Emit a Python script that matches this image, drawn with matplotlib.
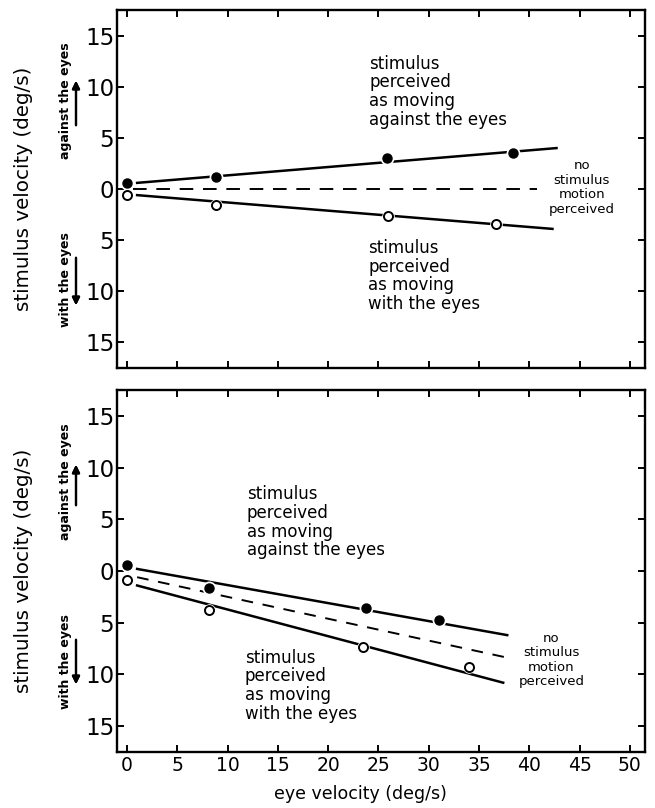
import matplotlib.pyplot as plt
import numpy as np

# top panel: measured points and fitted lines
top_against_x = [0, 8.8, 25.8, 38.4]
top_against_y = [0.6, 1.2, 3.0, 3.5]
top_with_x = [0, 8.8, 25.9, 36.7]
top_with_y = [-0.6, -1.6, -2.6, -3.4]
top_fit_against = ([1.0, 42.7], [0.6, 4.0])
top_fit_with = ([1.0, 42.3], [-0.6, -3.9])
top_no_motion = ([0.6, 40.8], [0.0, 0.0])

# bottom panel
bot_against_x = [0, 8.1, 23.8, 31.0]
bot_against_y = [0.6, -1.6, -3.6, -4.7]
bot_with_x = [0, 8.1, 23.5, 34.0]
bot_with_y = [-0.9, -3.8, -7.3, -9.3]
bot_fit_against = ([1.0, 37.8], [0.2, -6.2])
bot_fit_with = ([1.0, 37.4], [-1.4, -10.8])
bot_no_motion = ([1.0, 37.9], [-0.6, -8.4])

x_ticks = list(range(0, 55, 5))
y_ticks = [-15, -10, -5, 0, 5, 10, 15]

W, H = 655, 808
plt.rcParams['font.family'] = ['DejaVu Sans']

fig = plt.figure(figsize=(W / 100, H / 100), dpi=100)


def px(x, y):
    return (x / W, 1 - y / H)


def make_axes(top, bottom):
    left, right = 117, 645
    ax = fig.add_axes([left / W, 1 - bottom / H, (right - left) / W, (bottom - top) / H])
    ax.set_xlim(-1, 51.5)
    ax.set_ylim(-17.5, 17.5)
    ax.set_xticks(x_ticks)
    ax.set_yticks(y_ticks)
    ax.set_yticklabels([str(abs(v)) for v in y_ticks])
    ax.tick_params(direction='in', top=True, right=True, length=5, width=1.4, pad=3)
    ax.tick_params(axis='y', labelsize=16.5, pad=2)
    ax.tick_params(axis='x', labelsize=13.5)
    for s in ax.spines.values():
        s.set_linewidth(1.7)
    ax.set_ylabel('stimulus velocity (deg/s)', fontsize=14.3)
    ax.yaxis.set_label_coords((33 - 117) / 528, 0.5)
    return ax


def draw(ax, ax_x, ax_y, w_x, w_y, fit_a, fit_w, nm, dash):
    ax.plot(*fit_a, color='black', lw=1.8, zorder=2)
    ax.plot(*fit_w, color='black', lw=1.8, zorder=2)
    ax.plot(*nm, color='black', lw=1.4, dashes=dash, zorder=2)
    # white halo behind the points makes the gap in the line
    ax.plot(ax_x, ax_y, 'o', ms=9, color='white', zorder=3)
    ax.plot(w_x, w_y, 'o', ms=8, color='white', zorder=3)
    ax.plot(ax_x, ax_y, 'o', ms=6.5, color='black', zorder=4)
    ax.plot(w_x, w_y, 'o', ms=6.5, mfc='white', mec='black', mew=1.4, zorder=4)


def arrow(x, y0, y1):
    fig.add_artist(plt.annotate('', xy=px(x, y1), xytext=px(x, y0),
                                xycoords='figure fraction', textcoords='figure fraction',
                                arrowprops=dict(arrowstyle='-|>', color='black', lw=1.6,
                                                mutation_scale=11)))


def side_labels(against_c, with_c, up, down):
    fig.text(*px(65, against_c), 'against the eyes', rotation=90, fontsize=9,
             fontweight='bold', ha='center', va='center')
    fig.text(*px(65, with_c), 'with the eyes', rotation=90, fontsize=9,
             fontweight='bold', ha='center', va='center')
    arrow(76, *up)
    arrow(76, *down)


txt_kw = dict(fontsize=12, linespacing=1.05, va='center', ha='left')
nm_kw = dict(fontsize=9.5, linespacing=1.15, va='center', ha='center')

ax1 = make_axes(10, 368)
ax1.tick_params(labelbottom=False)
draw(ax1, top_against_x, top_against_y, top_with_x, top_with_y,
     top_fit_against, top_fit_with, top_no_motion, (7, 5))
ax1.text(24.1, 9.5, 'stimulus\nperceived\nas moving\nagainst the eyes', **txt_kw)
ax1.text(24.0, -8.5, 'stimulus\nperceived\nas moving\nwith the eyes', **txt_kw)
ax1.text(45.2, 0.15, 'no\nstimulus\nmotion\nperceived', **nm_kw)

ax2 = make_axes(390, 752)
draw(ax2, bot_against_x, bot_against_y, bot_with_x, bot_with_y,
     bot_fit_against, bot_fit_with, bot_no_motion, (6, 5))
ax2.text(11.9, 4.7, 'stimulus\nperceived\nas moving\nagainst the eyes', **txt_kw)
ax2.text(11.7, -11.1, 'stimulus\nperceived\nas moving\nwith the eyes', **txt_kw)
ax2.text(42.2, -8.6, 'no\nstimulus\nmotion\nperceived', **nm_kw)
ax2.set_xlabel('eye velocity (deg/s)', fontsize=12.5)
ax2.xaxis.set_label_coords((360 - 117) / 528, (752 - 785) / 362)

side_labels(101, 280, (128, 78), (255, 308))
side_labels(482, 662, (508, 462), (637, 687))

fig.savefig('out.png', dpi=100)
